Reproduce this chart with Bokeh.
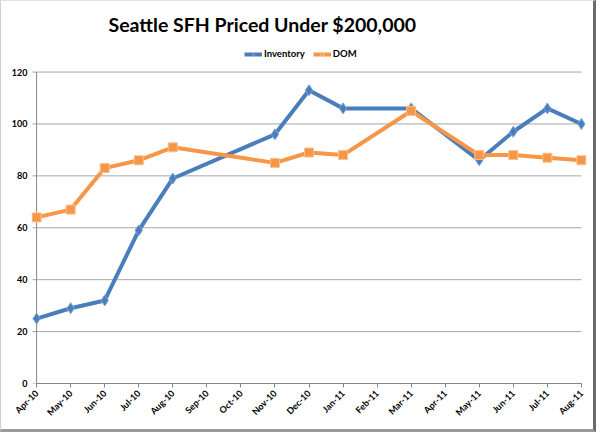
from bokeh.plotting import figure
from bokeh.models import Range1d, FixedTicker, Legend, LegendItem
from bokeh.embed import file_html
from bokeh.resources import INLINE
import math

months = ["Apr-10", "May-10", "Jun-10", "Jul-10", "Aug-10", "Sep-10", "Oct-10", "Nov-10",
          "Dec-10", "Jan-11", "Feb-11", "Mar-11", "Apr-11", "May-11", "Jun-11", "Jul-11", "Aug-11"]
point_months = ["Apr-10", "May-10", "Jun-10", "Jul-10", "Aug-10", "Nov-10", "Dec-10",
                "Jan-11", "Mar-11", "May-11", "Jun-11", "Jul-11", "Aug-11"]
inventory = [25, 29, 32, 59, 79, 96, 113, 106, 106, 86, 97, 106, 100]
dom = [64, 67, 83, 86, 91, 85, 89, 88, 105, 88, 88, 87, 86]
y_ticks = [0, 20, 40, 60, 80, 100, 120]

x_idx = [months.index(m) for m in point_months]
n = len(months) - 1
ymax = y_ticks[-1]

FONT = "Lato"
BLUE = "#4A7EBB"
ORANGE = "#F79646"
GRID = "#A6A6A6"
AXIS = "#868686"

p = figure(width=596, height=432, output_backend="svg", toolbar_location=None,
           x_range=Range1d(-0.15, n + 0.15), y_range=Range1d(0, 131),
           min_border_left=30, min_border_right=11, min_border_top=42, min_border_bottom=50)

p.title.text = "Seattle SFH Priced Under $200,000"
p.title.text_font = FONT
p.title.text_font_size = "19.5px"
p.title.text_font_style = "bold"
p.title.text_color = "#000000"
p.title.align = "left"
p.title.offset = 77
p.title.standoff = 15

# horizontal gridlines (with the short outward tick) and y axis line
p.segment(x0=[-0.12] * len(y_ticks), y0=y_ticks, x1=[n] * len(y_ticks), y1=y_ticks,
          line_color=GRID, line_width=1)
p.segment(x0=[0], y0=[0], x1=[0], y1=[ymax], line_color=AXIS, line_width=1)

r_inv_line = p.line(x_idx, inventory, line_color=BLUE, line_width=4)
r_inv_pts = p.scatter(x_idx, inventory, marker="diamond", size=11, fill_color=BLUE,
                      line_color="#7FA3D4", line_width=1)
r_dom_line = p.line(x_idx, dom, line_color=ORANGE, line_width=4)
r_dom_pts = p.scatter(x_idx, dom, marker="square", size=9, fill_color=ORANGE,
                      line_color="#FBC08E", line_width=1)

legend = Legend(items=[LegendItem(label="Inventory", renderers=[r_inv_line, r_inv_pts]),
                       LegendItem(label="DOM", renderers=[r_dom_line, r_dom_pts])],
                orientation="horizontal", location=(213, 324),
                label_text_font=FONT, label_text_font_size="9.5px", label_text_font_style="bold",
                label_text_color="#000000", glyph_width=18, glyph_height=8,
                label_standoff=2, spacing=8, padding=1, margin=0,
                border_line_color=None, background_fill_alpha=0)
p.add_layout(legend, "center")

p.xgrid.grid_line_color = None
p.ygrid.grid_line_color = None
p.outline_line_color = None

p.yaxis.ticker = FixedTicker(ticks=y_ticks)
p.yaxis.axis_line_color = None
p.yaxis.major_tick_line_color = None
p.yaxis.major_tick_out = 0
p.yaxis.major_tick_in = 0
p.xaxis.ticker = FixedTicker(ticks=list(range(len(months))))
p.xaxis.bounds = (0, n)
p.xaxis.major_label_overrides = {i: m for i, m in enumerate(months)}
p.xaxis.major_label_orientation = math.pi / 4
p.xaxis.axis_line_color = AXIS
p.xaxis.major_tick_line_color = AXIS
p.xaxis.major_tick_in = 0
p.xaxis.major_tick_out = 4

for ax in (p.xaxis[0], p.yaxis[0]):
    ax.minor_tick_line_color = None
    ax.major_label_text_font = FONT
    ax.major_label_text_font_size = "9px"
    ax.major_label_text_font_style = "bold"
    ax.major_label_text_color = "#000000"
    ax.major_label_standoff = 4

p.border_fill_color = "white"
p.background_fill_color = "white"
p.styles = {"border-right": "3px solid #6b6b6b", "border-bottom": "3px solid #9a9a9a",
            "border-left": "1px solid #d0d0d0", "border-top": "1px solid #e0e0e0"}

open("out.html", "w").write(file_html(p, INLINE))
